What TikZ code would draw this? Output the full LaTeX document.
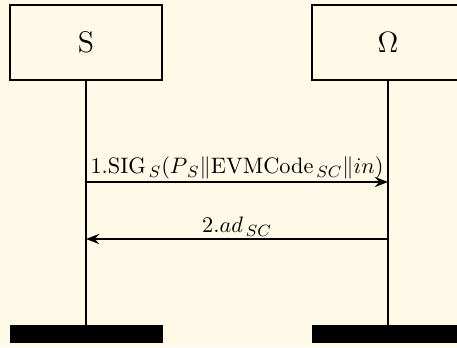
\documentclass[tikz,border=0pt]{standalone}
\usetikzlibrary{arrows.meta}
\definecolor{paper}{RGB}{255,249,231}
\newcommand{\sub}[1]{_{\mkern3mu #1}}
\begin{document}
\begin{tikzpicture}[x=0.49pt,y=-0.49pt,
  actor/.style={draw,line width=0.65pt,minimum width=152*0.49pt,minimum height=75*0.49pt,inner sep=0pt,font=\fontsize{14.6}{17}\selectfont},
  endbar/.style={fill=black,draw=black,line width=0.3pt,minimum width=152*0.49pt,minimum height=17*0.49pt,inner sep=0pt},
  lifeline/.style={line width=0.65pt},
  msg/.style={line width=0.65pt,-{Stealth[length=6.5pt,width=5pt,inset=2.2pt]}},
  msglabel/.style={above,inner sep=1pt,font=\fontsize{10.8}{13}\selectfont}]
  % canvas
  \fill[paper] (0,0) rectangle (457,347);
  \useasboundingbox (0,0) rectangle (457,347);
  \clip (0,0) rectangle (457,347);
  % participants
  \node[actor] (s) at (86,42.5) {S};
  \node[actor] (o) at (388,42.5) {$\Omega$};
  % closing bars
  \node[endbar] (sEnd) at (86,333.5) {};
  \node[endbar] (oEnd) at (388,333.5) {};
  % lifelines
  \draw[lifeline] (s.south) -- (sEnd.north);
  \draw[lifeline] (o.south) -- (oEnd.north);
  % message anchors on the lifelines
  \coordinate (m1s) at (86,182);
  \coordinate (m1o) at (388,182);
  \coordinate (m2s) at (86,239);
  \coordinate (m2o) at (388,239);
  % messages
  \draw[msg] (m1s) -- node[msglabel] {$1.\mathrm{SIG}\sub{S}(P\sub{S}\|\mathrm{EVMCode}\sub{SC}\|in)$} (m1o);
  \draw[msg] (m2o) -- node[msglabel] {$2.ad\sub{SC}$} (m2s);
\end{tikzpicture}
\end{document}
